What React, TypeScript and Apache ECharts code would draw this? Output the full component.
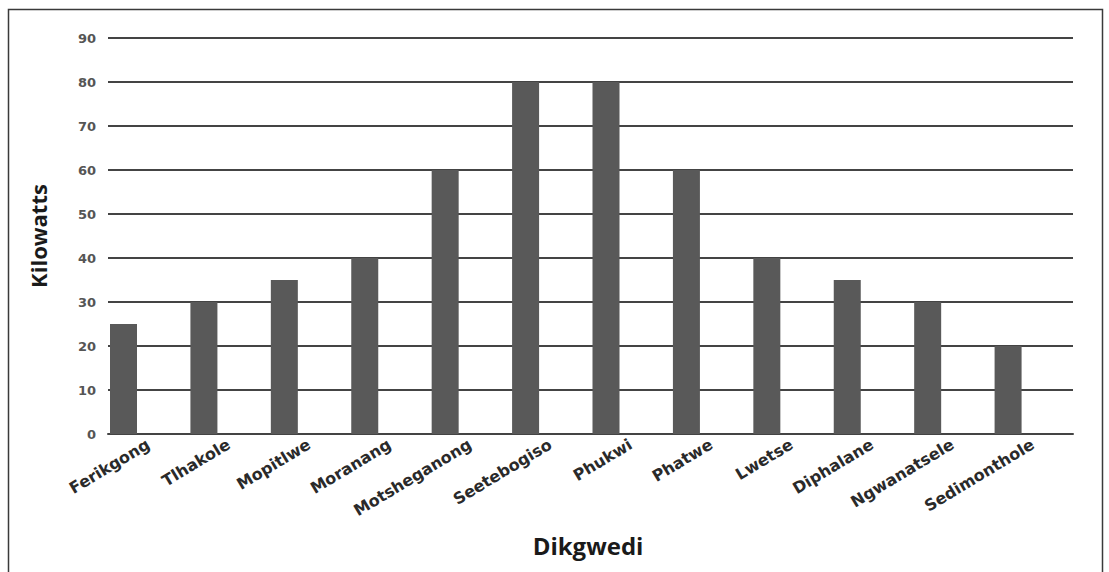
import React, { useEffect, useRef } from "react";
import * as echarts from "echarts";

const months = [
  "Ferikgong", "Tlhakole", "Mopitlwe", "Moranang", "Motsheganong", "Seetebogiso",
  "Phukwi", "Phatwe", "Lwetse", "Diphalane", "Ngwanatsele", "Sedimonthole",
];
const kilowatts = [25, 30, 35, 40, 60, 80, 80, 60, 40, 35, 30, 20];
const spacer = months.map(() => null);
const yTicks = [0, 10, 20, 30, 40, 50, 60, 70, 80, 90];

export default function App() {
  const ref = useRef<HTMLDivElement>(null);
  useEffect(() => {
    if (!ref.current) return;
    const chart = echarts.init(ref.current, undefined, { renderer: "svg" });
    chart.setOption({
      animation: false,
      backgroundColor: "#ffffff",
      grid: { left: 108, right: 36, top: 38, bottom: 138, containLabel: false },
      xAxis: {
        type: "category",
        data: months,
        axisTick: { show: false },
        axisLine: { show: true, lineStyle: { color: "#444444", width: 2 } },
        axisLabel: {
          interval: 0,
          rotate: 31,
          margin: 9,
          fontFamily: "DejaVu Sans",
          fontWeight: "bold",
          fontSize: 16,
          color: "#2a2a2a",
        },
      },
      yAxis: {
        type: "value",
        min: yTicks[0],
        max: yTicks[yTicks.length - 1],
        interval: 10,
        axisLine: { show: false },
        axisTick: { show: false },
        axisLabel: {
          margin: 12,
          fontFamily: "DejaVu Sans",
          fontWeight: "bold",
          fontSize: 13,
          color: "#555555",
        },
        splitLine: { show: true, lineStyle: { color: "#444444", width: 2 } },
      },
      series: [
        {
          type: "bar",
          data: kilowatts,
          barWidth: 27,
          barGap: "83%",
          itemStyle: { color: "#595959" },
        },
        {
          type: "bar",
          data: spacer,
          barWidth: 27,
          itemStyle: { color: "transparent" },
          silent: true,
        },
      ],
      graphic: [
        {
          type: "rect",
          shape: { x: 8.5, y: 9.5, width: 1094, height: 620 },
          style: { fill: "none", stroke: "#3a3a3a", lineWidth: 1.5 },
          silent: true,
        },
        {
          type: "text",
          x: 38,
          y: 236,
          rotation: Math.PI / 2,
          style: {
            text: "Kilowatts",
            fontFamily: "Open Sans",
            fontWeight: "bold",
            fontSize: 22,
            fill: "#1a1a1a",
            align: "center",
            verticalAlign: "middle",
          },
        },
        {
          type: "text",
          x: 588,
          y: 545,
          style: {
            text: "Dikgwedi",
            fontFamily: "Open Sans",
            fontWeight: "bold",
            fontSize: 24,
            fill: "#1a1a1a",
            align: "center",
            verticalAlign: "middle",
          },
        },
      ],
    });
    return () => chart.dispose();
  }, []);
  return (
    <div
      ref={ref}
      style={{ position: "absolute", left: 0, top: 0, width: 1109, height: 572 }}
    />
  );
}
